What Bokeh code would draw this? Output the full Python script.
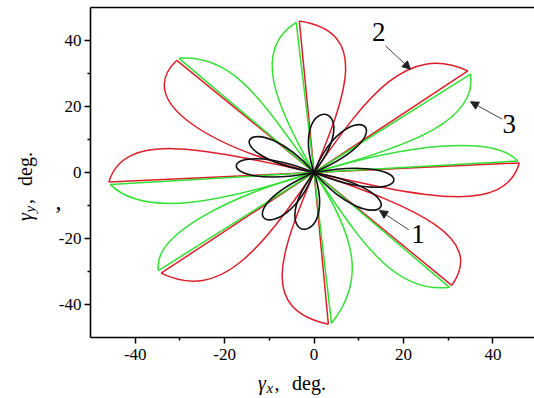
import math
from bokeh.plotting import figure
from bokeh.models import Range1d, FixedTicker, Label, Arrow, NormalHead, LinearAxis
from bokeh.embed import file_html
from bokeh.resources import INLINE

# ---------------- data ----------------
x_major_ticks = [-40, -20, 0, 20, 40]
x_minor_ticks = [-30, -10, 10, 30]
y_major_ticks = [-40, -20, 0, 20, 40]
y_minor_ticks = [-30, -10, 10, 30]
tick_labels = {-40: "-40", -20: "-20", 0: "0", 20: "20", 40: "40"}

# curve 2 (red): petal tips and Bezier control points of the curved edge
red_tip_x = [-3.3, 34.4, 45.9, 30.8, 3.2, -34.2, -45.9, -30.7]
red_tip_y = [45.9, 30.8, 2.9, -34.2, -46.0, -30.5, -2.9, 34.0]
red_c1_x = [12.35, 20.8, 42.6, 38.33, -12.37, -20.83, -42.44, -40.59]
red_c1_y = [42.6, 39.3, -12.8, -19.97, -41.44, -39.28, 12.82, 21.29]
red_c2_x = [7.6, 11.8, 25.05, 23.76, -7.7, -12.02, -25.13, -22.84]
red_c2_y = [24.9, 23.2, -7.66, -11.03, -25.04, -23.28, 7.4, 7.38]

# curve 3 (green)
green_tip_x = [-4.0, -30.2, 35.0, 45.6, 30.3, 3.9, -34.8, -45.6]
green_tip_y = [45.5, 34.6, 29.8, 3.5, -34.8, -45.7, -29.7, -3.6]
green_c1_x = [-13.96, -17.27, 36.46, 39.95, 17.46, 10.42, -36.24, -37.87]
green_c1_y = [37.14, 35.98, 15.88, 11.75, -36.83, -34.45, -18.79, -14.05]
green_c2_x = [-8.6, -10.69, 22.5, 20.4, 9.99, 10.92, -18.73, -20.17]
green_c2_y = [20.25, 19.23, 8.37, 8.24, -19.6, -22.48, -7.0, -8.77]

# curve 1 (black): loops from the origin back to the origin
black_c1_x = [-6.04, 7.33, 25.05, 25.27, 5.94, -7.2, -24.3, -24.34]
black_c1_y = [24.77, 24.74, 6.15, -6.54, -24.18, -24.46, -6.28, 6.11]
black_c2_x = [12.48, 22.23, 22.52, 14.02, -12.15, -21.95, -22.06, -13.63]
black_c2_y = [22.24, 13.09, -12.59, -22.01, -21.73, -12.98, 11.98, 21.07]

curve_numbers = ["1", "2", "3"]

# ---------------- layout ----------------
W, H = 534, 398
FL, FR, FT, FB = 90, 534, 7, 337          # pixel box of the axes
XL, XR = -50.0, 49.3
YB, YT = -50.0, 50.0
SX = (FR - FL) / (XR - XL)
SY = (FB - FT) / (YT - YB)


def dx(px):
    return XL + (px - FL) / SX


def dy(py):
    return YT - (py - FT) / SY


p = figure(width=W, height=H, x_range=Range1d(dx(0), dx(W)), y_range=Range1d(dy(H), dy(0)),
           output_backend="svg", toolbar_location=None,
           min_border_left=0, min_border_right=0, min_border_top=0, min_border_bottom=0,
           x_axis_type=None, y_axis_type=None)
p.grid.visible = False
p.outline_line_color = None
p.background_fill_color = "white"
p.border_fill_color = "white"

SERIF = "Liberation Serif"

xaxis = LinearAxis(fixed_location=YB, bounds=(XL, XR))
yaxis = LinearAxis(fixed_location=XL, bounds=(YB, YT))
topline = LinearAxis(fixed_location=YT, bounds=(XL, XR))
p.add_layout(xaxis, "below")
p.add_layout(yaxis, "left")
p.add_layout(topline, "above")

for ax, majors, minors in ((xaxis, x_major_ticks, x_minor_ticks),
                           (yaxis, y_major_ticks, y_minor_ticks)):
    ax.ticker = FixedTicker(ticks=majors, minor_ticks=minors)
    ax.major_label_overrides = tick_labels
    ax.major_tick_line_width = 1.5
    ax.minor_tick_line_width = 1.5
    ax.major_tick_in = 0
    ax.major_tick_out = 6
    ax.minor_tick_in = 0
    ax.minor_tick_out = 3
    ax.major_label_text_font = SERIF
    ax.major_label_text_font_size = "17px"
    ax.major_label_text_color = "black"
for ax in (xaxis, yaxis, topline):
    ax.axis_line_width = 1.6
    ax.axis_line_color = "black"
xaxis.major_label_standoff = 5
yaxis.major_label_standoff = 3
topline.ticker = FixedTicker(ticks=[])
topline.major_tick_line_color = None
topline.minor_tick_line_color = None
topline.major_label_text_font_size = "0px"

RED = "#dd1f2b"
GREEN = "#33e033"
BLACK = "#111111"
n = len(red_tip_x)
zeros = [0.0] * n

p.segment(x0=zeros, y0=zeros, x1=red_tip_x, y1=red_tip_y, line_color=RED, line_width=1.5)
p.bezier(x0=red_tip_x, y0=red_tip_y, x1=zeros, y1=zeros,
         cx0=red_c1_x, cy0=red_c1_y, cx1=red_c2_x, cy1=red_c2_y,
         line_color=RED, line_width=1.5)

p.segment(x0=zeros, y0=zeros, x1=green_tip_x, y1=green_tip_y, line_color=GREEN, line_width=1.5)
p.bezier(x0=green_tip_x, y0=green_tip_y, x1=zeros, y1=zeros,
         cx0=green_c1_x, cy0=green_c1_y, cx1=green_c2_x, cy1=green_c2_y,
         line_color=GREEN, line_width=1.5)

nb = len(black_c1_x)
bz = [0.0] * nb
p.bezier(x0=bz, y0=bz, x1=bz, y1=bz,
         cx0=black_c1_x, cy0=black_c1_y, cx1=black_c2_x, cy1=black_c2_y,
         line_color=BLACK, line_width=1.6)


def lab(text, px, py, size, style="normal", angle=0.0, align="left"):
    p.add_layout(Label(x=dx(px), y=dy(py), text=text, text_font=SERIF,
                       text_font_size=size, text_font_style=style,
                       text_color="black", text_align=align,
                       text_baseline="middle", angle=angle))


# x axis label: gamma_x, deg.   (anchors are the vertical middles of the text)
lab("γ", 257.5, 382.5, "20px", "italic")
lab("x", 266.0, 387.5, "15px", "italic")
lab(",", 274.0, 382.5, "20px")
lab("deg.", 291.5, 382.5, "20px")

# y axis label (rotated)
R = math.pi / 2
lab("γ", 24.5, 220.5, "20px", "italic", R)
lab("y", 29.5, 212.0, "15px", "italic", R)
lab(",", 24.5, 203.5, "20px", angle=R)
lab("deg.", 24.5, 185.5, "20px", angle=R)

# stray mark left of the axis
lab(",", 55, 201, "24px")

# curve numbers
lab(curve_numbers[1], 378.3, 31.0, "27px", align="center")
lab(curve_numbers[2], 508.7, 123.0, "27px", align="center")
lab(curve_numbers[0], 417.5, 233.5, "27px", align="center")

arrows = [((385.0, 45.3), (410.0, 68.7)),
          ((501.7, 118.7), (470.0, 101.3)),
          ((408.3, 229.3), (379.0, 210.0))]
for (tx, ty), (hx, hy) in arrows:
    p.add_layout(Arrow(end=NormalHead(size=8, fill_color="#222222", line_color="#222222", line_width=1),
                       x_start=dx(tx), y_start=dy(ty), x_end=dx(hx), y_end=dy(hy),
                       line_color="#444444", line_width=1))

open("out.html", "w").write(file_html(p, INLINE))
